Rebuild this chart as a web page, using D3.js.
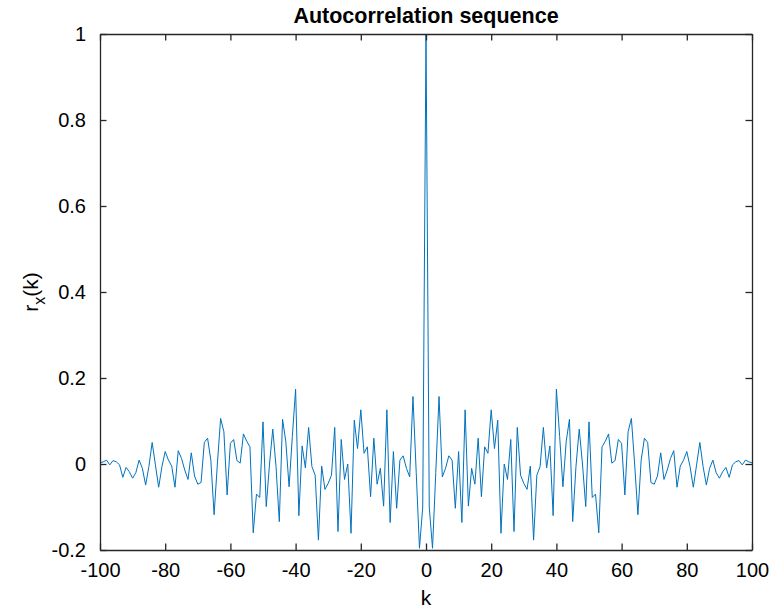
<!DOCTYPE html>
<html>
<head>
<meta charset="utf-8">
<script src="https://cdn.jsdelivr.net/npm/d3@7"></script>
<style>
  html, body { margin: 0; padding: 0; background: #ffffff; }
  svg { display: block; }
  text { font-family: "Liberation Sans", Arial, Helvetica, sans-serif; fill: #000; }
</style>
</head>
<body>
<svg id="chart" width="772" height="611"></svg>
<script>
// ---- data ----
const lags = d3.range(-100, 101);
const rx = [
  0.003, 0.005, 0.009, -0.002, 0.008, 0.005, -0.002, -0.031, -0.008, -0.018,
  -0.033, -0.020, 0.009, -0.010, -0.049, -0.006, 0.050, -0.002, -0.054, -0.006,
  0.029, 0.009, -0.005, -0.054, 0.031, 0.013, -0.014, -0.036, 0.026, -0.028,
  -0.047, -0.043, 0.050, 0.060, 0.009, -0.118, 0.000, 0.106, 0.075, -0.072,
  0.048, 0.057, 0.008, 0.002, 0.070, 0.053, 0.040, -0.160, -0.070, -0.078,
  0.098, -0.099, 0.000, 0.081, -0.006, -0.134, 0.104, 0.052, -0.053, 0.064,
  0.174, -0.120, 0.042, -0.009, 0.085, -0.006, -0.026, -0.177, -0.005, -0.059,
  -0.045, -0.026, 0.085, -0.157, 0.057, -0.036, 0.000, -0.161, 0.102, 0.036,
  0.126, 0.025, 0.040, -0.076, 0.060, -0.047, -0.010, -0.098, 0.126, -0.136,
  0.029, -0.103, 0.009, 0.019, -0.010, -0.030, 0.157, -0.020, -0.196, -0.100,
  1.000,
  -0.100, -0.196, -0.020, 0.157, -0.030, -0.010, 0.019, 0.009, -0.103, 0.029,
  -0.136, 0.126, -0.098, -0.010, -0.047, 0.060, -0.076, 0.040, 0.025, 0.126,
  0.036, 0.102, -0.161, 0.000, -0.036, 0.057, -0.157, 0.085, -0.026, -0.045,
  -0.059, -0.005, -0.177, -0.026, -0.006, 0.085, -0.009, 0.042, -0.120, 0.174,
  0.064, -0.053, 0.052, 0.104, -0.134, -0.006, 0.081, 0.000, -0.099, 0.098,
  -0.078, -0.070, -0.160, 0.040, 0.053, 0.070, 0.002, 0.008, 0.057, 0.048,
  -0.072, 0.075, 0.106, 0.000, -0.118, 0.009, 0.060, 0.050, -0.043, -0.047,
  -0.028, 0.026, -0.036, -0.014, 0.013, 0.031, -0.054, -0.005, 0.009, 0.029,
  -0.006, -0.054, -0.002, 0.050, -0.006, -0.049, -0.010, 0.009, -0.020, -0.033,
  -0.018, -0.008, -0.031, -0.002, 0.005, 0.008, -0.002, 0.009, 0.005, 0.003
];
const xTicks = [-100, -80, -60, -40, -20, 0, 20, 40, 60, 80, 100];
const yTicks = [-0.2, 0, 0.2, 0.4, 0.6, 0.8, 1];
const titleText = "Autocorrelation sequence";
const xLabelText = "k";

// ---- layout ----
const pLeft = 100, pRight = 752, pTop = 34, pBottom = 550;
const svg = d3.select("#chart");
const x = d3.scaleLinear().domain([-100, 100]).range([pLeft, pRight]);
const y = d3.scaleLinear().domain([-0.2, 1]).range([pBottom, pTop]);
const tickLen = 6.5;
const axisColor = "#262626";
const fmt = d => (d === 0 ? "0" : String(+d.toFixed(1)));

// data line (clipped to the axes box)
svg.append("defs").append("clipPath").attr("id", "clip")
  .append("rect").attr("x", pLeft).attr("y", pTop).attr("width", pRight - pLeft).attr("height", pBottom - pTop);

const line = d3.line().x((d, i) => x(lags[i])).y(d => y(d));
svg.append("path")
  .datum(rx)
  .attr("clip-path", "url(#clip)")
  .attr("fill", "none")
  .attr("stroke", "#0072BD")
  .attr("stroke-width", 1)
  .attr("d", line);

// axes (MATLAB-style: ticks inside, box on)
function styleAxis(g) {
  g.select(".domain").attr("stroke", axisColor).attr("stroke-width", 1.3);
  g.selectAll(".tick line").attr("stroke", axisColor).attr("stroke-width", 1.3);
  g.selectAll("text").attr("font-size", 20).attr("fill", "#000")
    .style("font-family", "'Liberation Sans', Arial, sans-serif");
}

const xAxisB = svg.append("g").attr("transform", `translate(0,${pBottom})`)
  .call(d3.axisBottom(x).tickValues(xTicks).tickFormat(fmt).tickSizeInner(-tickLen).tickSizeOuter(0).tickPadding(13));
styleAxis(xAxisB);

const xAxisT = svg.append("g").attr("transform", `translate(0,${pTop})`)
  .call(d3.axisTop(x).tickValues(xTicks).tickFormat("").tickSizeInner(-tickLen).tickSizeOuter(0));
styleAxis(xAxisT);

const yAxisL = svg.append("g").attr("transform", `translate(${pLeft},0)`)
  .call(d3.axisLeft(y).tickValues(yTicks).tickFormat(fmt).tickSizeInner(-tickLen).tickSizeOuter(0).tickPadding(14));
styleAxis(yAxisL);

const yAxisR = svg.append("g").attr("transform", `translate(${pRight},0)`)
  .call(d3.axisRight(y).tickValues(yTicks).tickFormat("").tickSizeInner(-tickLen).tickSizeOuter(0));
styleAxis(yAxisR);

// title
svg.append("text")
  .attr("x", (pLeft + pRight) / 2).attr("y", 23)
  .attr("text-anchor", "middle")
  .attr("font-size", 21.5).attr("font-weight", "bold")
  .text(titleText);

// x label
svg.append("text")
  .attr("x", (pLeft + pRight) / 2).attr("y", 605)
  .attr("text-anchor", "middle")
  .attr("font-size", 21)
  .text(xLabelText);

// y label r_x(k)
const yl = svg.append("text")
  .attr("transform", `translate(38,${(pTop + pBottom) / 2}) rotate(-90)`)
  .attr("text-anchor", "middle")
  .attr("font-size", 21);
yl.append("tspan").text("r");
yl.append("tspan").attr("font-size", 16).attr("dy", 7).text("x");
yl.append("tspan").attr("dy", -7).text("(k)");
</script>
</body>
</html>
